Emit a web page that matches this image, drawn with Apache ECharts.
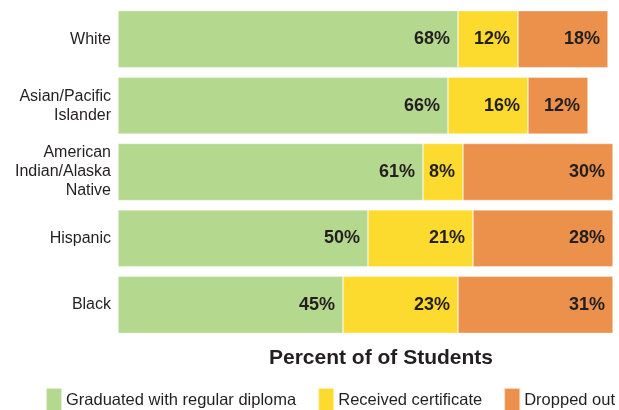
<!DOCTYPE html>
<html><head><meta charset="utf-8">
<script src="https://cdn.jsdelivr.net/npm/echarts@6/dist/echarts.min.js"></script>
<style>html,body{margin:0;padding:0;background:#fff}#c{width:619px;height:410px}</style>
</head><body><div id="c"></div>
<script>
const categories = ['White', 'Asian/Pacific\nIslander', 'American\nIndian/Alaska\nNative', 'Hispanic', 'Black'];
const graduated = [68, 66, 61, 50, 45];
const certificate = [12, 16, 8, 21, 23];
const dropped = [18, 12, 30, 28, 31];
const seriesNames = ['Graduated with regular diploma', 'Received certificate', 'Dropped out'];
const colors = ['#b5d88f', '#fddb2e', '#ec914b'];
const FONT = '"Liberation Sans", Arial, sans-serif';

const chart = echarts.init(document.getElementById('c'), null, {renderer: 'canvas'});
function mk(name, data, color) {
  return {
    name: name, type: 'bar', stack: 'all', data: data, barWidth: 57,
    itemStyle: {color: color, borderColor: 'rgba(255,255,255,0.6)', borderWidth: 0.6},
    label: {show: true, position: 'insideRight', distance: 8, formatter: '{c}%',
      color: '#231f20', fontWeight: 'bold', fontSize: 18, fontFamily: FONT},
    emphasis: {disabled: true}
  };
}
chart.setOption({
  animation: false,
  title: {text: 'Percent of of Students', left: 264, top: 343,
    textStyle: {fontSize: 21, fontWeight: 'bold', color: '#231f20', fontFamily: FONT}},
  legend: {left: 45, top: 387, width: 700, padding: 0, itemWidth: 16, itemHeight: 24, itemGap: 21,
    icon: 'rect', textStyle: {fontSize: 16.5, color: '#231f20', fontFamily: FONT, padding: [0,0,0,-1]},
    data: seriesNames},
  grid: {left: 118, top: 6, width: 500, height: 332, containLabel: false},
  xAxis: {type: 'value', min: 0, max: 100, show: false},
  yAxis: {type: 'category', inverse: true, data: categories,
    axisLine: {show: false}, axisTick: {show: false},
    axisLabel: {margin: 7, fontSize: 16, lineHeight: 19, color: '#231f20', fontFamily: FONT, align: 'right'}},
  series: [mk(seriesNames[0], graduated, colors[0]), mk(seriesNames[1], certificate, colors[1]), mk(seriesNames[2], dropped, colors[2])]
});
</script></body></html>
